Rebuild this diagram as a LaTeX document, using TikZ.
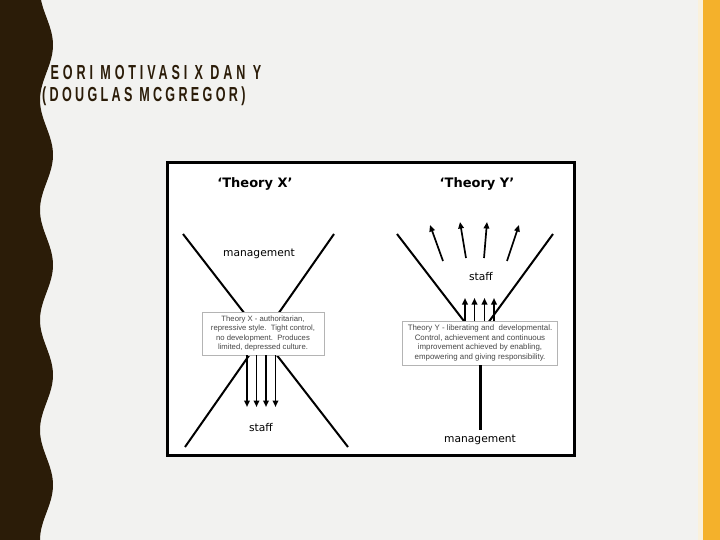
\documentclass[tikz,border=0pt]{standalone}
\usepackage{fontspec}
\setmainfont{DejaVu Sans}
\newfontfamily\titlefont{Liberation Sans}[FakeStretch=0.62,LetterSpace=19]
\newfontfamily\titlefontb{Liberation Sans}[FakeStretch=0.62,LetterSpace=16.3]
\newfontfamily\boxfont{Liberation Sans}
\usetikzlibrary{arrows.meta}
\definecolor{pagebg}{HTML}{F2F2F0}
\definecolor{bandcol}{HTML}{2B1C08}
\definecolor{stripecol}{HTML}{F4B12B}
\definecolor{creamcol}{HTML}{FAF1DC}
\definecolor{boxline}{HTML}{B4B4B4}
\definecolor{boxtext}{HTML}{474747}
\begin{document}
\begin{tikzpicture}[x=1pt,y=-1pt,
  xline/.style={line width=2pt},
  arr/.style={line width=1.7pt,-{Triangle[length=6.5pt,width=5.5pt]}},
  lbl/.style={font=\fontsize{10.7}{12}\selectfont, inner sep=0pt},
  head/.style={font=\bfseries\fontsize{13}{15}\selectfont, inner sep=0pt},
  titletext/.style={anchor=base west, inner sep=0pt, text=bandcol},
  descbox/.style={draw=boxline, line width=0.7pt, fill=white, align=center, inner sep=0pt, text=boxtext},
  ]
\useasboundingbox (0,0) rectangle (720,540);
\fill[pagebg] (0,0) rectangle (720,540);
% right stripes
\fill[creamcol] (698,0) rectangle (703,540);
\fill[stripecol] (703,0) rectangle (720,540);
% title
\node[titletext, font=\titlefont\bfseries\fontsize{20.3}{22}\selectfont] (title1) at (39,80) {TEORI MOTIVASI X DAN Y};
\node[titletext, font=\titlefontb\bfseries\fontsize{20.3}{22}\selectfont] (title2) at (42,102) {(DOUGLAS MCGREGOR)};
% left wavy band
\fill[bandcol] (0,0) -- plot[domain=0:540,samples=150,variable=\t] ({46.5+6.5*cos((\t-45)*3.272727)},\t) -- (0,540) -- cycle;
% frame
\draw[line width=3pt, fill=white] (167.5,162.5) rectangle (574.5,455.5);

% ---------- Theory X ----------
\node[head] (hx) at (255,184) {‘Theory X’};
\node[lbl] (mx) at (259,254) {management};
\node[lbl] (sx) at (261,427.5) {staff};
\coordinate (xa1) at (183,234);
\coordinate (xa2) at (348,447);
\coordinate (xb1) at (334,234);
\coordinate (xb2) at (185,447);
\draw[xline] (xa1) -- (xa2);
\draw[xline] (xb1) -- (xb2);
\node[descbox, minimum width=122pt, minimum height=43pt, font=\boxfont\fontsize{7.7}{9.4}\selectfont] (boxX) at (263,333.5)
  {Theory X - authoritarian,\\ repressive style.\ \ Tight control,\\ no development.\ \ Produces\\ limited, depressed culture.};
\foreach \i/\xx in {1/247,2/256.5,3/266,4/275.5}{
  \coordinate (xs\i) at (\xx,355);
  \coordinate (xe\i) at (\xx,407);
  \draw[arr] (xs\i) -- (xe\i);
}

% ---------- Theory Y ----------
\node[head] (hy) at (477,184) {‘Theory Y’};
\node[lbl] (sy) at (481,277) {staff};
\node[lbl] (my) at (480,440) {management};
\coordinate (ya1) at (397,234);
\coordinate (ya2) at (477,338);
\coordinate (yb1) at (553,234);
\coordinate (yb2) at (477,338);
\draw[xline] (ya1) -- (ya2);
\draw[xline] (yb1) -- (yb2);
\node[descbox, minimum width=155pt, minimum height=44pt, font=\boxfont\fontsize{7.9}{9.6}\selectfont] (boxY) at (480,343)
  {Theory Y - liberating and\ \ developmental.\\ Control, achievement and continuous\\ improvement achieved by enabling,\\ empowering and giving responsibility.};
\foreach \i/\xx in {1/465,2/474.5,3/484.5,4/494}{
  \coordinate (ys\i) at (\xx,321);
  \coordinate (ye\i) at (\xx,298);
  \draw[arr] (ys\i) -- (ye\i);
}
\coordinate (f1s) at (443,261); \coordinate (f1e) at (430,225);
\coordinate (f2s) at (466,258); \coordinate (f2e) at (460,222);
\coordinate (f3s) at (484,258); \coordinate (f3e) at (487,222);
\coordinate (f4s) at (507,261); \coordinate (f4e) at (519,225);
\foreach \i in {1,2,3,4}{\draw[arr] (f\i s) -- (f\i e);}
\coordinate (ymid) at (480,430);
\draw[line width=3pt] (boxY.south) -- (ymid);
\end{tikzpicture}
\end{document}
